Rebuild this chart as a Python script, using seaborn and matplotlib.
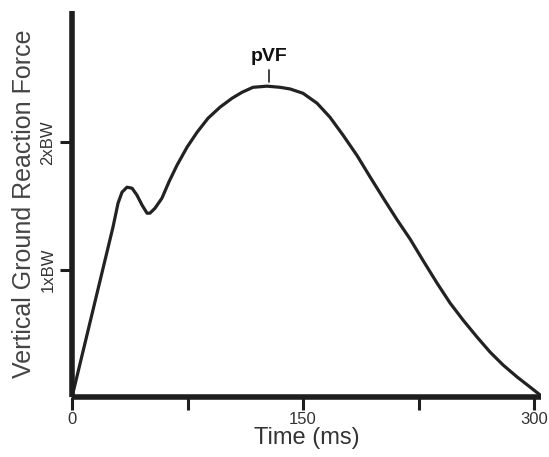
import matplotlib
matplotlib.use("Agg")
import matplotlib.pyplot as plt
import seaborn as sns
import pandas as pd

# Data (time in ms, force in body weights)
time_ms = [0, 26.6, 29.9, 32.5, 35.7, 39.0, 42.2, 45.5, 48.7, 50.6, 53.9, 58.4,
           63.0, 68.2, 74.7, 81.2, 88.3, 96.1, 103.9, 110.4, 117.5, 126.6,
           135.1, 141.6, 150.0, 159.1, 167.5, 176.0, 185.1, 193.5, 201.9, 211.0,
           219.5, 228.0, 237.0, 245.5, 253.9, 263.0, 271.4, 279.9, 289.0, 297.4,
           303.9]
force_bw = [0, 1.333, 1.522, 1.608, 1.647, 1.639, 1.584, 1.506, 1.443, 1.443, 1.482, 1.561,
            1.69, 1.82, 1.961, 2.078, 2.188, 2.275, 2.345, 2.392, 2.431, 2.440,
            2.431, 2.418, 2.384, 2.306, 2.196, 2.055, 1.895, 1.728, 1.565, 1.392,
            1.24, 1.07, 0.894, 0.737, 0.604, 0.47, 0.353, 0.251, 0.157, 0.078,
            0.016]
x_ticks = [0, 75, 150, 225, 300]
x_tick_labels = ["0", "", "150", "", "300"]
y_ticks = [1, 2]
y_tick_labels = ["1xBW", "2xBW"]
peak_time = 128.0
peak_label = "pVF"

df = pd.DataFrame({"Time (ms)": time_ms, "Force": force_bw})

sns.set_style("white")
plt.rcParams["font.family"] = ["Liberation Sans", "DejaVu Sans"]

fig = plt.figure(figsize=(5.49, 4.57), dpi=100)
ax = fig.add_axes([72 / 549, (457 - 397) / 457, (541 - 72) / 549, (397 - 11) / 457])

sns.lineplot(data=df, x="Time (ms)", y="Force", ax=ax, sort=False, estimator=None,
             color="#222222", linewidth=2.3)
ax.lines[0].set_solid_joinstyle("round")

ax.set_xlim(0, 304.5)
ax.set_ylim(0, 3.03)

for side in ["top", "right"]:
    ax.spines[side].set_visible(False)
for side in ["left", "bottom"]:
    ax.spines[side].set_linewidth(4.0)
    ax.spines[side].set_color("#1e1e1e")
    ax.spines[side].set_capstyle("butt")

ax.set_xticks(x_ticks)
ax.set_xticklabels(x_tick_labels)
ax.set_yticks(y_ticks)
ax.set_yticklabels(y_tick_labels, rotation=90, va="center")
ax.tick_params(axis="x", direction="out", length=9, width=2.2, color="#1e1e1e",
               labelsize=12, labelcolor="#333333", pad=2, bottom=True)
ax.tick_params(axis="y", direction="out", length=9, width=2.2, color="#1e1e1e",
               labelsize=12, labelcolor="#333333", pad=3, left=True)

ax.set_xlabel("Time (ms)", fontsize=17, color="#333333", labelpad=0)
ax.set_ylabel("Vertical Ground Reaction Force", fontsize=18, color="#444444", labelpad=3)

# Peak marker and label
pk = max(force_bw)
ax.plot([peak_time, peak_time], [pk + 0.03, pk + 0.125], color="#222222", linewidth=1.2)
ax.text(peak_time, pk + 0.235, peak_label, ha="center", va="center",
        fontsize=14, fontweight="bold", color="#111111")

fig.savefig("out.png", dpi=100, facecolor="white")
